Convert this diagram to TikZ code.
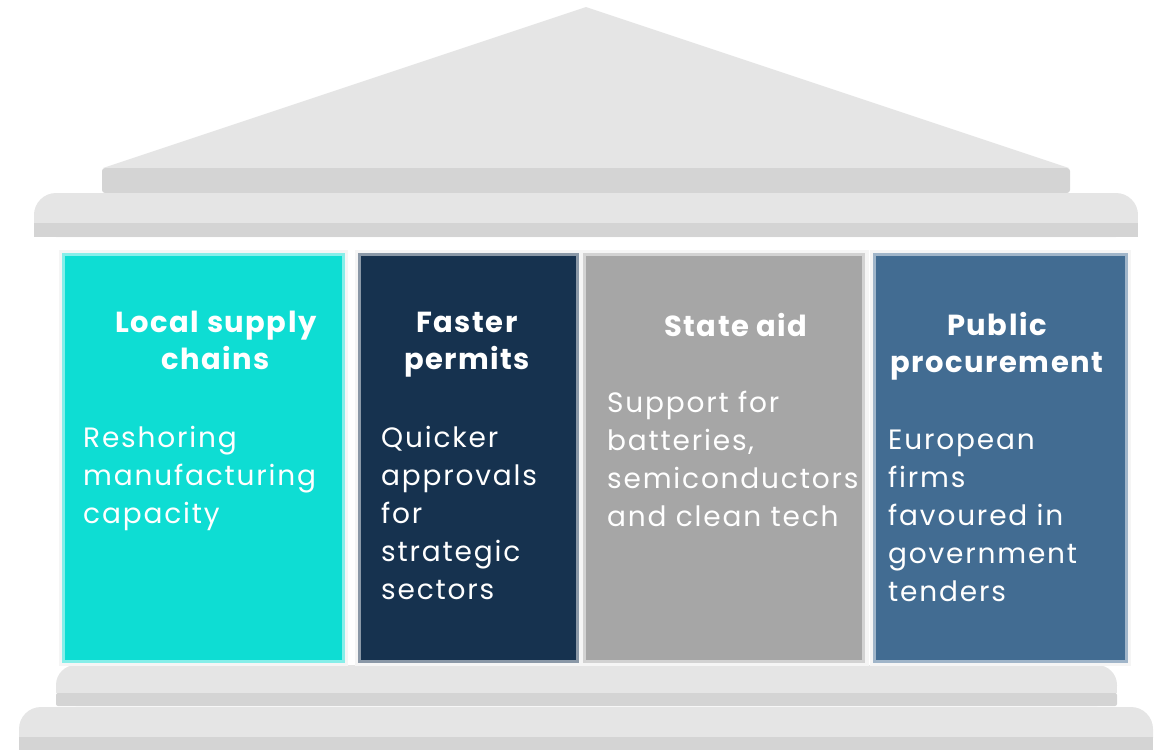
\documentclass[tikz,border=0pt]{standalone}
\usepackage{fontspec}
\setmainfont{Poppins}
\newfontfamily\headfont[LetterSpace=5]{Poppins}
\newfontfamily\bodyfont[LetterSpace=6.5]{Poppins}
\usetikzlibrary{positioning}

\definecolor{stonelight}{HTML}{E5E5E5}
\definecolor{stonedark}{HTML}{D4D4D4}
\definecolor{pillarteal}{HTML}{0EDDD3}
\definecolor{pillarnavy}{HTML}{16324F}
\definecolor{pillargrey}{HTML}{A6A6A6}
\definecolor{pillarblue}{HTML}{426C92}

\tikzset{
  pillar/.style={anchor=north west, inner sep=0pt, outer sep=0pt, line width=3pt},
  halo/.style={fill=black!4},
  pillartitle/.style={anchor=north, align=center, inner sep=0pt, text=white,
    font=\headfont\bfseries\fontsize{29}{37}\selectfont},
  pillartext/.style={anchor=north west, align=left, inner sep=0pt, text=white,
    font=\bodyfont\fontsize{28}{38}\selectfont}
}

\begin{document}
\begin{tikzpicture}[x=1pt,y=-1pt]
  \useasboundingbox (0,0) rectangle (1160,750);

  % roof
  \fill[stonelight] (103,168) -- (586,7) -- (1069,168) -- cycle;
  \fill[stonedark, rounded corners=3pt] (102,168) rectangle (1070,193);
  \fill[stonelight, rounded corners=22pt] (34,193) rectangle (1138,237);
  \fill[stonelight] (34,212) rectangle (1138,223);
  \fill[stonedark] (34,223) rectangle (1138,237);

  % steps
  \fill[stonelight, rounded corners=20pt] (56,665) rectangle (1117,706);
  \fill[stonelight] (56,685) rectangle (1117,693);
  \fill[stonedark, rounded corners=2pt] (56,693) rectangle (1117,706);
  \fill[stonelight, rounded corners=22pt] (19,707) rectangle (1153,760);
  \fill[stonelight] (19,730) rectangle (1153,737);
  \fill[stonedark] (19,737) rectangle (1153,760);

  % pillars
  \fill[halo] (59,250) rectangle (348,666);
  \fill[halo] (355,250) rectangle (582,666);
  \fill[halo] (582,250) rectangle (869,666);
  \fill[halo] (870,250) rectangle (1131,666);

  \node[pillar, fill=pillarteal, draw=pillarteal!50!white,
    minimum width=280pt, minimum height=407pt] (supply) at (63.5,254.5) {};
  \node[pillar, fill=pillarnavy, draw=pillarnavy!50!white,
    minimum width=218pt, minimum height=407pt] (permits) at (359.5,254.5) {};
  \node[pillar, fill=pillargrey, draw=pillargrey!50!white,
    minimum width=279pt, minimum height=407pt] (aid) at (584.5,254.5) {};
  \node[pillar, fill=pillarblue, draw=pillarblue!50!white,
    minimum width=252pt, minimum height=407pt] (procurement) at (874.5,254.5) {};

  % headings
  \node[pillartitle] (supplyhead) at (216,306) {\strut Local supply\\chains};
  \node[pillartitle] (permitshead) at (467,306) {\strut Faster\\permits};
  \node[pillartitle] (aidhead) at (736,310) {\strut State aid};
  \node[pillartitle] (procurementhead) at (997,309) {\strut Public\\procurement};

  % descriptions
  \node[pillartext] (supplytext) at (83,421)
    {\strut Reshoring\\manufacturing\\capacity};
  \node[pillartext] (permitstext) at (381,421)
    {\strut Quicker\\approvals\\for\\strategic\\sectors};
  \node[pillartext] (aidtext) at (607,386)
    {\strut Support for\\batteries,\\semiconductors\\and clean tech};
  \node[pillartext] (procurementtext) at (888,423)
    {\strut European\\firms\\favoured in\\government\\tenders};
\end{tikzpicture}
\end{document}
